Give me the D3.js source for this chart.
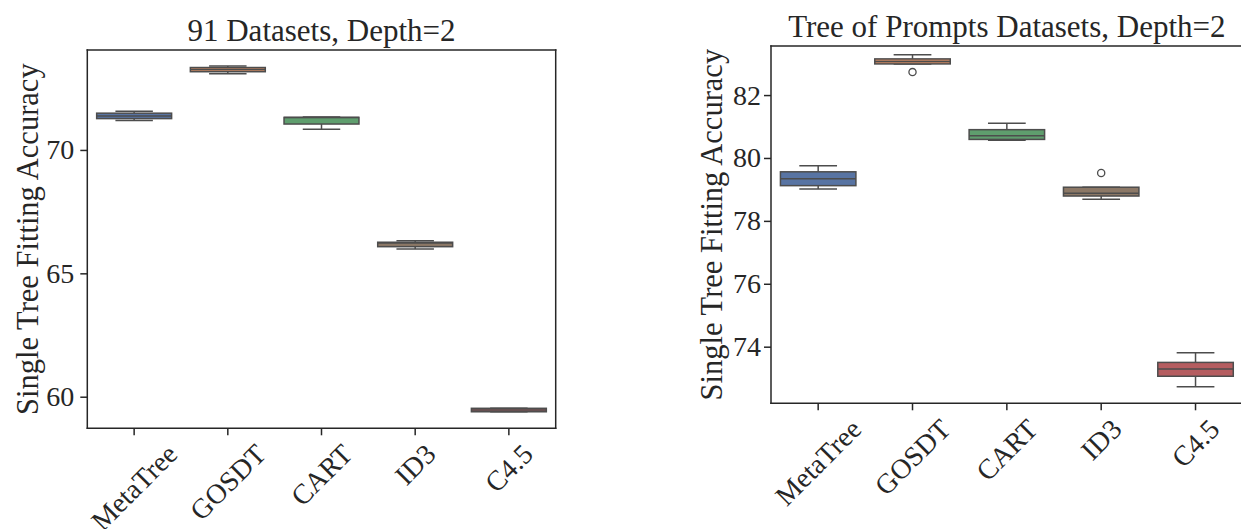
<!DOCTYPE html>
<html>
<head>
<meta charset="utf-8">
<script src="https://cdn.jsdelivr.net/npm/d3@7"></script>
<style>
  html, body { margin: 0; padding: 0; background: #ffffff; }
  svg { display: block; }
</style>
</head>
<body>
<svg id="chart" width="1241" height="529"></svg>
<script>
// ---------- data ----------
const categories = ["MetaTree", "GOSDT", "CART", "ID3", "C4.5"];
const boxColors = ["#5874a3", "#cc8963", "#5f9e6e", "#8c7866", "#b55d60"];

// Left panel: 91 Datasets, Depth=2
const leftTitle = "91 Datasets, Depth=2";
const leftTicks = [60, 65, 70];
const leftWhiskerLow  = [71.19, 73.09, 70.84, 65.99, 59.39];
const leftQ1          = [71.27, 73.17, 71.05, 66.08, 59.39];
const leftMedian      = [71.38, 73.26, 71.31, 66.23, 59.46];
const leftQ3          = [71.49, 73.34, 71.32, 66.26, 59.53];
const leftWhiskerHigh = [71.57, 73.40, 71.33, 66.32, 59.53];
const leftOutliers    = [[], [], [], [], []];

// Right panel: Tree of Prompts Datasets, Depth=2
const rightTitle = "Tree of Prompts Datasets, Depth=2";
const rightTicks = [74, 76, 78, 80, 82];
const rightWhiskerLow  = [79.01, 82.99, 80.56, 78.69, 72.73];
const rightQ1          = [79.12, 82.99, 80.59, 78.79, 73.06];
const rightMedian      = [79.34, 83.07, 80.71, 78.88, 73.29];
const rightQ3          = [79.56, 83.15, 80.90, 79.07, 73.50];
const rightWhiskerHigh = [79.75, 83.28, 81.10, 79.07, 73.81];
const rightOutliers    = [[], [82.73], [], [79.52], []];

const yLabel = "Single Tree Fitting Accuracy";

// ---------- style ----------
const FONT = "'Liberation Serif', 'Times New Roman', Times, serif";
const TEXT = "#262626";
const SPINE = "#262626";
const LINE = "#4d4d4d";
const TICK_FS = 28;
const TITLE_FS = 31;
const LABEL_FS = 30.5;

const svg = d3.select("#chart");

function panel(cfg) {
  const g = svg.append("g");
  const x = d3.scaleBand().domain(categories).range([cfg.left, cfg.right]).paddingInner(0).paddingOuter(0);
  const y = d3.scaleLinear().domain(cfg.yDomain).range([cfg.bottom, cfg.top]);
  const bw = x.bandwidth() * 0.8;
  const capW = bw / 2;

  const rows = categories.map((c, i) => ({
    c, i,
    lo: cfg.wl[i], q1: cfg.q1[i], med: cfg.med[i], q3: cfg.q3[i], hi: cfg.wh[i],
    out: cfg.out[i], color: boxColors[i]
  }));

  const boxes = g.selectAll("g.box").data(rows).join("g").attr("class", "box");
  const cx = d => x(d.c) + x.bandwidth() / 2;

  // whiskers
  boxes.append("line")
    .attr("x1", cx).attr("x2", cx)
    .attr("y1", d => y(d.q3)).attr("y2", d => y(d.hi))
    .attr("stroke", LINE).attr("stroke-width", 1.5);
  boxes.append("line")
    .attr("x1", cx).attr("x2", cx)
    .attr("y1", d => y(d.q1)).attr("y2", d => y(d.lo))
    .attr("stroke", LINE).attr("stroke-width", 1.5);
  // caps
  boxes.append("line")
    .attr("x1", d => cx(d) - capW / 2).attr("x2", d => cx(d) + capW / 2)
    .attr("y1", d => y(d.hi)).attr("y2", d => y(d.hi))
    .attr("stroke", LINE).attr("stroke-width", 1.5);
  boxes.append("line")
    .attr("x1", d => cx(d) - capW / 2).attr("x2", d => cx(d) + capW / 2)
    .attr("y1", d => y(d.lo)).attr("y2", d => y(d.lo))
    .attr("stroke", LINE).attr("stroke-width", 1.5);
  // box
  boxes.append("rect")
    .attr("x", d => cx(d) - bw / 2)
    .attr("width", bw)
    .attr("y", d => y(d.q3))
    .attr("height", d => Math.max(0.5, y(d.q1) - y(d.q3)))
    .attr("fill", d => d.color)
    .attr("stroke", LINE).attr("stroke-width", 1.5);
  // median
  boxes.append("line")
    .attr("x1", d => cx(d) - bw / 2).attr("x2", d => cx(d) + bw / 2)
    .attr("y1", d => y(d.med)).attr("y2", d => y(d.med))
    .attr("stroke", LINE).attr("stroke-width", 1.5);
  // outliers
  boxes.selectAll("circle").data(d => d.out.map(v => ({ v, d }))).join("circle")
    .attr("cx", o => cx(o.d)).attr("cy", o => y(o.v)).attr("r", 3.6)
    .attr("fill", "none").attr("stroke", LINE).attr("stroke-width", 1.3);

  // spines
  const spines = g.append("g");
  const sp = (x1, y1, x2, y2) => spines.append("line")
    .attr("x1", x1).attr("y1", y1).attr("x2", x2).attr("y2", y2)
    .attr("stroke", SPINE).attr("stroke-width", 1.5).attr("stroke-linecap", "square");
  sp(cfg.left, cfg.top, cfg.left, cfg.bottom);
  sp(cfg.left, cfg.bottom, cfg.right, cfg.bottom);
  sp(cfg.left, cfg.top, cfg.right, cfg.top);
  sp(cfg.right, cfg.top, cfg.right, cfg.bottom);

  // y axis
  const yAxis = d3.axisLeft(y).tickValues(cfg.ticks).tickSize(7).tickPadding(cfg.tickPad).tickFormat(d3.format("d"));
  const ya = g.append("g").attr("transform", `translate(${cfg.left},0)`).call(yAxis);
  ya.select(".domain").remove();
  ya.selectAll(".tick line").attr("stroke", SPINE).attr("stroke-width", 1.5);
  ya.selectAll(".tick text").attr("fill", TEXT).style("font-family", FONT).style("font-size", TICK_FS + "px");

  // x axis
  const xAxis = d3.axisBottom(x).tickSize(7).tickFormat("");
  const xa = g.append("g").attr("transform", `translate(0,${cfg.bottom})`).call(xAxis);
  xa.select(".domain").remove();
  xa.selectAll(".tick line").attr("stroke", SPINE).attr("stroke-width", 1.5);

  // rotated x tick labels (bbox centred on tick, top aligned below tick)
  const topY = cfg.bottom + 7 + 4;
  categories.forEach(c => {
    const t = g.append("text")
      .text(c)
      .attr("fill", TEXT)
      .style("font-family", FONT)
      .style("font-size", TICK_FS + "px")
      .attr("text-anchor", "middle")
      .attr("dominant-baseline", "central");
    const w = t.node().getComputedTextLength();
    const h = TICK_FS * 1.0;
    const half = (w + h) * Math.SQRT1_2 / 2;
    const tx = x(c) + x.bandwidth() / 2;
    const ty = topY + half;
    t.attr("transform", `translate(${tx},${ty}) rotate(-45)`);
  });

  // title
  g.append("text")
    .text(cfg.title)
    .attr("x", (cfg.left + cfg.right) / 2)
    .attr("y", cfg.top - 9.3)
    .attr("text-anchor", "middle")
    .attr("fill", TEXT)
    .style("font-family", FONT)
    .style("font-size", TITLE_FS + "px");

  // y label
  g.append("text")
    .text(yLabel)
    .attr("transform", `translate(${cfg.ylabelX},${(cfg.top + cfg.bottom) / 2}) rotate(-90)`)
    .attr("text-anchor", "middle")
    .attr("dominant-baseline", "central")
    .attr("fill", TEXT)
    .style("font-family", FONT)
    .style("font-size", LABEL_FS + "px");
}

panel({
  left: 87.3, right: 555.7, top: 50, bottom: 428.3,
  yDomain: [58.72, 74.05], ticks: leftTicks, title: leftTitle, ylabelX: 28, tickPad: 6,
  wl: leftWhiskerLow, q1: leftQ1, med: leftMedian, q3: leftQ3, wh: leftWhiskerHigh, out: leftOutliers
});

panel({
  left: 771, right: 1242.7, top: 46, bottom: 403.3,
  yDomain: [72.20, 83.56], ticks: rightTicks, title: rightTitle, ylabelX: 712, tickPad: 3,
  wl: rightWhiskerLow, q1: rightQ1, med: rightMedian, q3: rightQ3, wh: rightWhiskerHigh, out: rightOutliers
});
</script>
</body>
</html>
